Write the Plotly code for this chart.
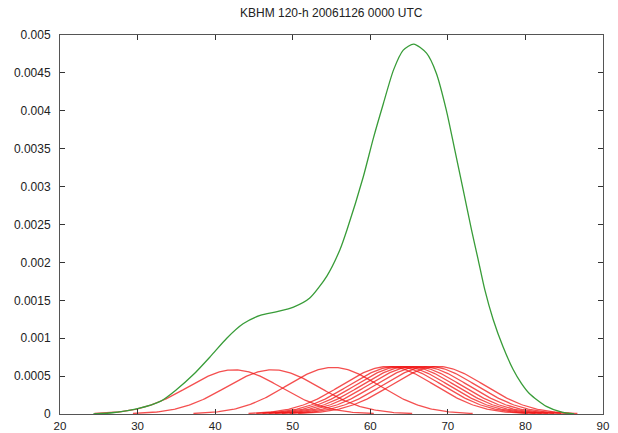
import numpy as np
import plotly.graph_objects as go

# Ensemble-member kernels
kernel_centers = [42.45, 47.4, 55.2, 62.3, 63.3, 64.1, 64.9, 65.7, 66.6, 67.6, 68.7]
kernel_peaks = [0.000583, 0.000583, 0.000614, 0.000627, 0.000627, 0.000627,
                0.000627, 0.000627, 0.000627, 0.000627, 0.000627]
kernel_sigma = [6.0] * 11

# Summed density curve
green_x = [24.3, 27, 30, 33, 35, 37.2, 39.4, 41.5, 43.6, 45.8, 48, 50.1, 52.2, 54.4,
           56.1, 57, 59.1, 60.4, 61.7, 63, 64.25, 65.6, 67.25, 68.5, 69.8, 70.9,
           71.97, 73.05, 73.9, 74.76, 75.83, 77.1, 78.4, 79.5, 80.5, 82.7, 84.8, 86.3]
green_y = [0, 0.00002, 0.00007, 0.00017, 0.00032, 0.00052, 0.00076, 0.0010, 0.00119,
           0.0013, 0.00135, 0.00141, 0.00153, 0.00182, 0.00217, 0.00243, 0.00313,
           0.00364, 0.0041, 0.00454, 0.0048, 0.00488, 0.00476, 0.0045, 0.00401,
           0.00348, 0.00296, 0.00243, 0.00204, 0.00164, 0.00125, 0.00089, 0.00059,
           0.0004, 0.00027, 0.0001, 0.00002, 0]

x_ticks = [20, 30, 40, 50, 60, 70, 80, 90]
y_ticks = [0, 0.0005, 0.001, 0.0015, 0.002, 0.0025, 0.003, 0.0035, 0.004, 0.0045, 0.005]
y_tick_labels = ["0", "0.0005", "0.001", "0.0015", "0.002", "0.0025", "0.003",
                 "0.0035", "0.004", "0.0045", "0.005"]
title_text = "KBHM 120-h 20061126 0000 UTC"

fig = go.Figure()
for c, p, s in zip(kernel_centers, kernel_peaks, kernel_sigma):
    xs = np.linspace(c - 3 * s, c + 3 * s, 200)
    ys = p * np.exp(-((xs - c) ** 2) / (2 * s * s))
    fig.add_trace(go.Scatter(x=xs, y=ys, mode="lines",
                             line=dict(color="rgba(240,20,20,0.75)", width=1.3),
                             showlegend=False, hoverinfo="skip"))

fig.add_trace(go.Scatter(x=green_x, y=green_y, mode="lines",
                         line=dict(color="#389c38", width=1.3, shape="spline", smoothing=0.7),
                         showlegend=False))

axis_common = dict(showgrid=False, zeroline=False, showline=True, linecolor="#555555",
                   linewidth=1, ticks="inside", ticklen=5, tickcolor="#333333",
                   mirror="allticks", automargin=False)

fig.update_xaxes(range=[20, 90], tickvals=x_ticks, ticklabelstandoff=1,
                 tickfont=dict(family="Liberation Sans", size=11.5, color="#222222"),
                 **axis_common)
fig.update_yaxes(range=[0, 0.005], tickvals=y_ticks, ticktext=y_tick_labels,
                 ticklabelstandoff=6,
                 tickfont=dict(family="Liberation Sans", size=12, color="#222222"),
                 **axis_common)

fig.update_layout(
    width=618, height=433,
    margin=dict(l=59.5, r=14.5, t=35, b=18.5, autoexpand=False),
    paper_bgcolor="white", plot_bgcolor="white",
    title=dict(text=title_text, x=0.536, xanchor="center", y=0.97, yanchor="middle",
               yref="container", automargin=False,
               font=dict(family="Liberation Sans", size=12, color="#222222")),
)

fig.write_html("out.html", config={"displayModeBar": False},
               post_script="document.body.style.margin='0';document.body.style.overflow='hidden';")
